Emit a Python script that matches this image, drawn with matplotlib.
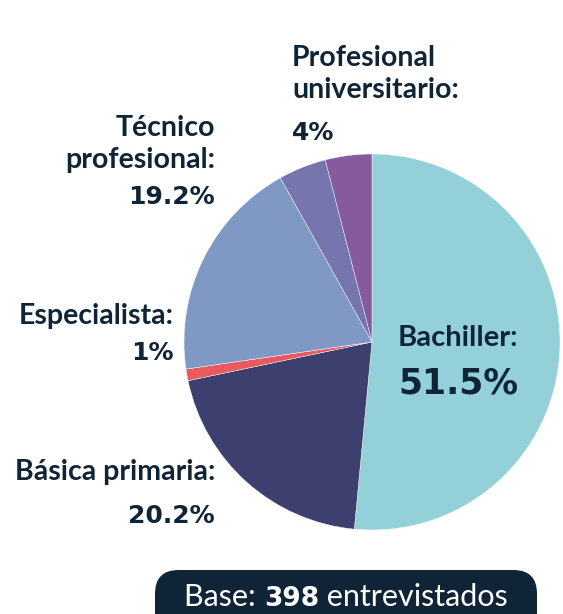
import matplotlib
matplotlib.use("Agg")
import matplotlib.pyplot as plt
from matplotlib.patches import FancyBboxPatch

categories = ["Bachiller", "Básica primaria", "Especialista", "Técnico profesional", "Otro", "Profesional universitario"]
values = [51.5, 20.2, 1.0, 19.2, 4.1, 4.0]
colors = ["#93d0d8", "#3d3f6e", "#e85a5e", "#7f98c4", "#7775ad", "#855b9e"]
label_lines = {
    "Bachiller": "Bachiller:",
    "Básica primaria": "Básica primaria:",
    "Especialista": "Especialista:",
    "Técnico profesional": "Técnico\nprofesional:",
    "Profesional universitario": "Profesional\nuniversitario:",
}
pct_text = {"Bachiller": "51.5%", "Básica primaria": "20.2%", "Especialista": "1%",
            "Técnico profesional": "19.2%", "Profesional universitario": "4%"}
base_n = 398

W, H = 563, 614
fig = plt.figure(figsize=(W / 100, H / 100), dpi=100)
fig.patch.set_facecolor("white")

cx, cy, r = 372, 342, 188
ax = fig.add_axes([(cx - r) / W, (H - cy - r) / H, 2 * r / W, 2 * r / H])
ax.pie(values, colors=colors, startangle=90, counterclock=False, radius=1,
       wedgeprops=dict(edgecolor="white", linewidth=0.3))
ax.set_xlim(-1, 1)
ax.set_ylim(-1, 1)
ax.set_aspect("auto")
ax.axis("off")

txt = "#0f2537"
lab_font = ["Lato", "DejaVu Sans"]

def px(x, y):
    return x / W, 1 - y / H

def put(x, y, s, size, weight="bold", ha="right", va="top", family=lab_font):
    fig.text(*px(x, y), s, fontsize=size, fontweight=weight, color=txt, ha=ha, va=va,
             family=family, linespacing=1.3)

LS = 20.5
PS = 18
pfam = ["DejaVu Sans"]
# Técnico profesional
put(215, 115, label_lines["Técnico profesional"], LS)
put(215, 185, pct_text["Técnico profesional"], PS, weight="heavy", family=pfam)
# Profesional universitario
put(292, 45, label_lines["Profesional universitario"], LS, ha="left")
put(292, 121, pct_text["Profesional universitario"], PS, weight="heavy", ha="left", family=pfam)
# Especialista
put(174, 303, label_lines["Especialista"], LS)
put(174, 341, pct_text["Especialista"], PS, weight="heavy", family=pfam)
# Básica primaria
put(215, 459, label_lines["Básica primaria"], LS)
put(215, 504, pct_text["Básica primaria"], PS, weight="heavy", family=pfam)
# Bachiller
put(458, 325, label_lines["Bachiller"], 21, ha="center")
put(458, 366, pct_text["Bachiller"], 25, weight="heavy", ha="center", family=pfam)

# Base box
bx0, bx1, by0, by1 = 155, 537, 570, 640
box = FancyBboxPatch(px(bx0, by1), (bx1 - bx0) / W, (by1 - by0) / H,
                     boxstyle="round,pad=0,rounding_size=0.042",
                     transform=fig.transFigure, facecolor="#0f2537", edgecolor="none",
                     mutation_aspect=W / H)
fig.patches.append(box)

fig.canvas.draw()
renderer = fig.canvas.get_renderer()
parts = [("Base: ", "normal", lab_font, 22), (str(base_n), "heavy", pfam, 19), (" entrevistados", "normal", lab_font, 22)]
texts = []
total = 0
for s, w, fam, fs in parts:
    t = fig.text(0, 0, s, fontsize=fs, fontweight=w, color="white", family=fam, va="baseline")
    bb = t.get_window_extent(renderer)
    texts.append((t, bb.width))
    total += bb.width
x = (bx0 + bx1) / 2 - total / 2
for t, wdt in texts:
    t.set_position(px(x, 606))
    x += wdt

fig.savefig("out.png", dpi=100, facecolor="white")
